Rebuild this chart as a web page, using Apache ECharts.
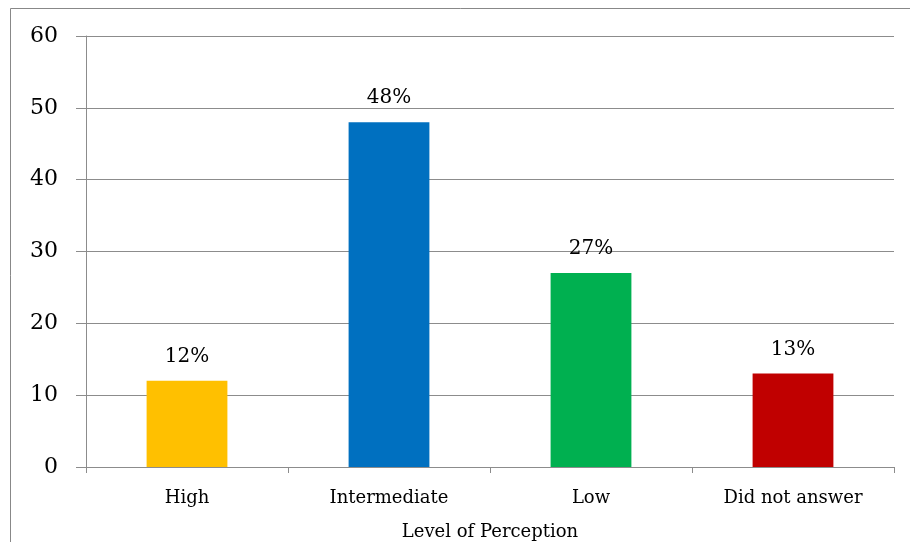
<!DOCTYPE html>
<html>
<head>
<meta charset="utf-8">
<script src="https://cdn.jsdelivr.net/npm/echarts@6/dist/echarts.min.js"></script>
<style>
  html, body { margin: 0; padding: 0; background: #fff; }
  #chart { width: 910px; height: 542px; }
</style>
</head>
<body>
<div id="chart"></div>
<script>
// Perception levels and share of respondents (%)
const categories = ['High', 'Intermediate', 'Low', 'Did not answer'];
const values = [12, 48, 27, 13];
const barColors = ['#FFC000', '#0070C0', '#00B050', '#C00000'];
const yTicks = { min: 0, max: 60, interval: 10 };

const font = '"DejaVu Serif", "Liberation Serif", serif';
const chart = echarts.init(document.getElementById('chart'));

chart.setOption({
  animation: false,
  backgroundColor: '#fff',
  graphic: [{
    type: 'rect',
    shape: { x: 10.5, y: 8.5, width: 1000, height: 1000 },
    style: { fill: 'none', stroke: '#888', lineWidth: 1 },
    silent: true
  }],
  grid: { left: 86, right: 16, top: 36, bottom: 75, containLabel: false, outerBoundsMode: 'none' },
  xAxis: {
    type: 'category',
    data: categories,
    name: 'Level of Perception',
    nameLocation: 'middle',
    nameGap: 56,
    nameTextStyle: { fontFamily: font, fontSize: 18, color: '#000' },
    axisLine: { lineStyle: { color: '#8c8c8c', width: 1 } },
    axisTick: { show: true, length: 6, lineStyle: { color: '#8c8c8c' } },
    axisLabel: { fontFamily: font, fontSize: 18, color: '#000', margin: 22 }
  },
  yAxis: {
    type: 'value',
    min: yTicks.min,
    max: yTicks.max,
    interval: yTicks.interval,
    axisLine: { show: true, lineStyle: { color: '#8c8c8c', width: 1 } },
    axisTick: { show: true, length: 10, lineStyle: { color: '#8c8c8c' } },
    splitLine: { show: true, lineStyle: { color: '#8c8c8c', width: 1 } },
    axisLabel: { fontFamily: font, fontSize: 22, color: '#000', margin: 28 }
  },
  series: [{
    type: 'bar',
    barWidth: '40%',
    data: values.map((v, i) => ({ value: v, itemStyle: { color: barColors[i] } })),
    label: {
      show: true,
      position: 'top',
      distance: 14,
      fontFamily: font,
      fontSize: 20,
      color: '#000',
      formatter: p => p.value + '%'
    }
  }]
});
</script>
</body>
</html>
